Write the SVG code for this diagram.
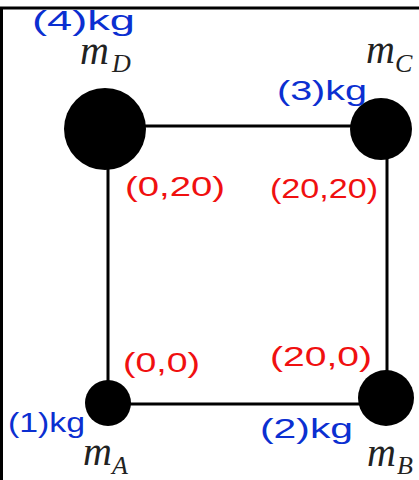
<svg xmlns="http://www.w3.org/2000/svg" width="419" height="480" viewBox="0 0 419 480">
<style>
.edge{stroke:#000;stroke-width:3;fill:none}
.mass{fill:#000}
.m{font-family:"Liberation Serif",serif;font-style:italic;fill:#222}
.mm{font-size:40px}
.ms{font-size:26px}
.kg{font-family:"Liberation Sans",sans-serif;font-size:27px;fill:#0b2fd1}
.xy{font-family:"Liberation Sans",sans-serif;font-size:28px;fill:#f01010}
</style>
<rect width="419" height="480" fill="#fff"/>
<g id="frame">
<line x1="1.5" y1="7" x2="1.5" y2="480" class="edge"/>
<line x1="0" y1="8" x2="419" y2="8" class="edge"/>
</g>
<g id="connectors">
<line x1="105" y1="126" x2="381" y2="126" class="edge"/>
<line x1="108" y1="129" x2="108" y2="404" class="edge"/>
<line x1="108" y1="404" x2="386" y2="404" class="edge"/>
<line x1="387" y1="129" x2="387" y2="398" class="edge"/>
</g>
<g id="node-D">
<circle cx="105" cy="129" r="41" class="mass"/>
<text class="m mm" x="80" y="64">m</text><text class="m ms" x="112" y="72">D</text>
<text class="kg" x="32" y="30" textLength="103" lengthAdjust="spacingAndGlyphs">(4)kg</text>
<text class="xy" x="125" y="196" textLength="100" lengthAdjust="spacingAndGlyphs">(0,20)</text>
</g>
<g id="node-C">
<circle cx="381" cy="129" r="31" class="mass"/>
<text class="m mm" x="366" y="63">m</text><text class="m ms" x="395" y="72">C</text>
<text class="kg" x="277" y="100" textLength="90" lengthAdjust="spacingAndGlyphs">(3)kg</text>
<text class="xy" x="270" y="198" textLength="108" lengthAdjust="spacingAndGlyphs">(20,20)</text>
</g>
<g id="node-A">
<circle cx="108" cy="403" r="23" class="mass"/>
<text class="m mm" x="83" y="465">m</text><text class="m ms" x="112" y="474">A</text>
<text class="kg" x="8" y="432" textLength="77" lengthAdjust="spacingAndGlyphs">(1)kg</text>
<text class="xy" x="123" y="372" textLength="77" lengthAdjust="spacingAndGlyphs">(0,0)</text>
</g>
<g id="node-B">
<circle cx="386" cy="398" r="28" class="mass"/>
<text class="m mm" x="367" y="466">m</text><text class="m ms" x="397" y="474">B</text>
<text class="kg" x="260" y="438" textLength="93" lengthAdjust="spacingAndGlyphs">(2)kg</text>
<text class="xy" x="270" y="366" textLength="102" lengthAdjust="spacingAndGlyphs">(20,0)</text>
</g>
</svg>
